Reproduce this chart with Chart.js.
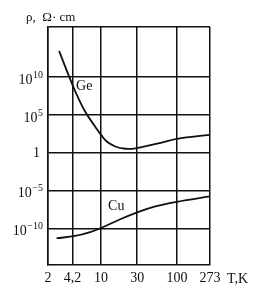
<!DOCTYPE html>
<html>
<head>
<meta charset="utf-8">
<script src="https://cdn.jsdelivr.net/npm/chart.js@4"></script>
<style>
  html, body { margin: 0; padding: 0; background: #fff; }
</style>
</head>
<body>
<canvas id="myChart" width="271" height="300"></canvas>
<script>
// temperature axis (K) and resistivity exponents
const tTicks = [2, 4.2, 10, 30, 100, 273];
const tLabels = ['2', '4,2', '10', '30', '100', '273'];
const rhoExps = [10, 5, 0, -5, -10];

// Ge curve
const geT = [2.8, 3.8, 4.6, 6.2, 8.4, 10, 11.9, 15.4, 20.9, 28.3, 61, 100, 273];
const geRho = [2.5e13, 1e10, 1e8, 2.3e5, 2.4e3, 210, 28, 6.2, 3.1, 3.5, 19, 63, 214];

// Cu curve
const cuT = [2.6, 4.55, 7.2, 10, 17.9, 30, 52, 100, 273];
const cuRho = [5e-12, 1e-11, 3.2e-11, 1.1e-10, 1.6e-9, 1.3e-8, 8e-8, 3.2e-7, 1.6e-6];

const ink = '#111';
const serif = "'Liberation Serif', 'DejaVu Serif', serif";
const yMin = Math.pow(10, -14.83);
const yMax = Math.pow(10, 16.54);

let extras = {
  id: 'extras',
  afterDraw(chart) {
    let c = chart.ctx, sx = chart.scales.x, sy = chart.scales.y;
    c.save();
    c.fillStyle = ink;
    c.textBaseline = 'alphabetic';

    // y labels: 10 with raised exponent
    let right = 43;
    rhoExps.forEach(e => {
      let py = sy.getPixelForValue(Math.pow(10, e));
      if (e === 0) {
        c.font = '14px ' + serif;
        c.textAlign = 'right';
        c.fillText('1', 40, py + 5);
        return;
      }
      let ex = e < 0 ? '\u2212' + (-e) : String(e);
      c.font = '10px ' + serif;
      let ew = c.measureText(ex).width;
      c.textAlign = 'left';
      c.fillText(ex, right - ew, py + 1);
      c.font = '14px ' + serif;
      c.textAlign = 'right';
      c.fillText('10', right - ew - 0.5, py + 7);
    });

    // axis titles
    c.textAlign = 'left';
    c.font = '13px ' + serif;
    c.fillText('\u03c1,  \u03a9\u00b7 cm', 26, 21);
    c.font = '14px ' + serif;
    c.fillText('T,K', 227, 283);

    // curve names
    c.fillText('Ge', sx.getPixelForValue(4.69), sy.getPixelForValue(1.8e8));
    c.fillText('Cu', sx.getPixelForValue(12.4), sy.getPixelForValue(2.5e-8));
    c.restore();
  }
};

let ctx = document.getElementById('myChart').getContext('2d');

let lineStyle = {
  borderColor: ink,
  borderWidth: 1.8,
  pointRadius: 0,
  fill: false,
  tension: 0.4
};

let myChart = new Chart(ctx, {
  type: 'line',
  data: {
    datasets: [
      Object.assign({ label: 'Ge', data: geT.map((t, i) => ({ x: t, y: geRho[i] })) }, lineStyle),
      Object.assign({ label: 'Cu', data: cuT.map((t, i) => ({ x: t, y: cuRho[i] })) }, lineStyle)
    ]
  },
  options: {
    responsive: false,
    animation: false,
    layout: { padding: { top: 27, right: 61, left: 0, bottom: 0 } },
    plugins: { legend: { display: false }, tooltip: { enabled: false } },
    scales: {
      x: {
        type: 'logarithmic',
        min: 2,
        max: 273,
        afterBuildTicks: s => { s.ticks = tTicks.map(v => ({ value: v })); },
        afterFit: s => { s.height = 35; },
        ticks: {
          callback: (v, i) => tLabels[i],
          autoSkip: false,
          maxRotation: 0,
          padding: 5,
          color: ink,
          font: { family: serif, size: 14 }
        },
        grid: { color: ink, lineWidth: 1.5, drawTicks: false },
        border: { color: ink, width: 1.5 }
      },
      y: {
        type: 'logarithmic',
        min: yMin,
        max: yMax,
        afterBuildTicks: s => {
          s.ticks = rhoExps.map(e => ({ value: Math.pow(10, e) })).concat([{ value: yMax }]);
        },
        afterFit: s => { s.width = 48; },
        ticks: { display: false },
        grid: { color: ink, lineWidth: 1.5, drawTicks: false },
        border: { color: ink, width: 1.5 }
      }
    }
  },
  plugins: [extras]
});
</script>
</body>
</html>
